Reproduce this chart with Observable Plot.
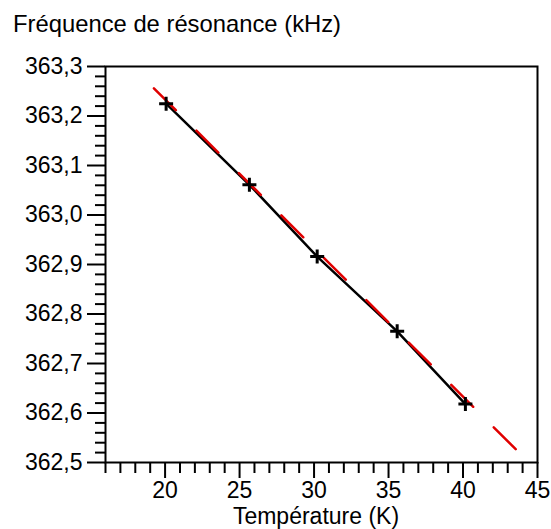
<!DOCTYPE html>
<html><head><meta charset="utf-8">
<script src="https://cdn.jsdelivr.net/npm/d3@7"></script>
<script src="https://cdn.jsdelivr.net/npm/@observablehq/plot@0.6"></script>
<style>
body{margin:0;background:#fff;}
#wrap{position:relative;width:551px;height:529px;font-family:"Liberation Sans",Arial,sans-serif;}
.t{position:absolute;font-size:23px;color:#000;white-space:nowrap;line-height:0.8;}
#wrap svg{position:absolute;left:0;top:0;}
</style></head><body>
<div id="wrap">
</div>
<script>
// Measured points (temperature in K, resonance frequency in kHz)
const temperature = [20.07, 25.66, 30.21, 35.58, 40.16];
const frequency = [363.225, 363.061, 362.916, 362.765, 362.618];
// Linear fit line (dashed red), end points
const fitTemperature = [19.25, 43.7];
const fitFrequency = [363.256, 362.522];
// Ticks
const xMajorTicks = [20, 25, 30, 35, 40, 45];
const xMinorTicks = [16,17,18,19,21,22,23,24,26,27,28,29,31,32,33,34,36,37,38,39,41,42,43,44];
const yMajorTicks = [362.5, 362.6, 362.7, 362.8, 362.9, 363.0, 363.1, 363.2, 363.3];
const yMinorTicks = d3.range(0, 41).map(i => +(362.5 + i * 0.02).toFixed(2)).filter(v => !yMajorTicks.includes(v));
const titleText = "Fréquence de résonance (kHz)";
const xLabelText = "Température (K)";

const points = temperature.map((t, i) => ({t, f: frequency[i]}));
const fit = fitTemperature.map((t, i) => ({t, f: fitFrequency[i]}));

const crossSymbol = {
  draw(ctx, size) {
    const r = Math.sqrt(size / Math.PI);
    ctx.moveTo(-r, 0); ctx.lineTo(r, 0);
    ctx.moveTo(0, -r); ctx.lineTo(0, r);
  }
};
const fmt = d => d.toFixed(1).replace(".", ",");

const plot = Plot.plot({
  width: 551, height: 529,
  marginTop: 66, marginBottom: 67, marginLeft: 105, marginRight: 14,
  style: {fontFamily: "Liberation Sans, Arial, sans-serif", fontSize: "23px", color: "#000", background: "transparent"},
  x: {domain: [16, 45]},
  y: {domain: [362.5, 363.3]},
  marks: [
    Plot.axisX(xMinorTicks, {tickSize: 11, strokeWidth: 2, tickFormat: () => "", label: null}),
    Plot.axisX(xMajorTicks, {tickSize: 16, tickPadding: 3, strokeWidth: 2, fontSize: 23, tickFormat: d => String(d), label: null}),
    Plot.axisY(yMinorTicks, {tickSize: 10, strokeWidth: 2, tickFormat: () => "", label: null}),
    Plot.axisY(yMajorTicks, {tickSize: 18, tickPadding: 5, strokeWidth: 2, fontSize: 23, tickFormat: fmt, label: null}),
    Plot.frame({stroke: "#000", strokeWidth: 2}),
    Plot.line(points, {x: "t", y: "f", stroke: "#000", strokeWidth: 2.5}),
    Plot.line(fit, {x: "t", y: "f", stroke: "#e00000", strokeWidth: 2.5, strokeDasharray: "31,29"}),
    Plot.dot(points, {x: "t", y: "f", symbol: crossSymbol, r: 7, stroke: "#000", strokeWidth: 3, fill: "none"})
  ]
});
const wrap = document.getElementById("wrap");
wrap.appendChild(plot);
const title = document.createElement("div");
title.className = "t"; title.textContent = titleText;
title.style.left = "13px"; title.style.top = "14px"; title.style.fontSize = "23.8px";
wrap.appendChild(title);
const xl = document.createElement("div");
xl.className = "t"; xl.textContent = xLabelText;
xl.style.left = "316px"; xl.style.top = "507px"; xl.style.transform = "translateX(-50%)";
wrap.appendChild(xl);
</script>
</body></html>
